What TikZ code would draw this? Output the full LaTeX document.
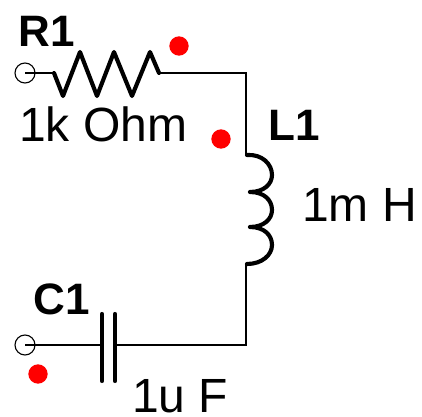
\documentclass[tikz,border=0pt]{standalone}
\usepackage{fontspec}
\setmainfont{Liberation Sans}
\tikzset{
  thinwire/.style={line width=1.125pt},
  thickwire/.style={line width=3.1pt,line cap=round,line join=round},
  terminal/.style={circle,draw,line width=0.85pt,minimum size=15pt,inner sep=0pt},
  reddot/.style={circle,fill=red,minimum size=14.5pt,inner sep=0pt},
  compname/.style={anchor=base west,inner sep=0pt,font=\bfseries\fontsize{33pt}{33pt}\selectfont},
  compvalue/.style={anchor=base west,inner sep=0pt,font=\fontsize{36pt}{36pt}\selectfont}
}
\begin{document}
\begin{tikzpicture}[x=0.75pt,y=-0.75pt]
\useasboundingbox[fill=white] (0,0) rectangle (422,417);
% terminals
\node[terminal] (t1) at (25,73) {};
\node[terminal] (t2) at (25,345) {};
\coordinate (t1c) at (25,73);
\coordinate (t2c) at (25,345);
% named points
\coordinate (ra) at (54,73);
\coordinate (rb) at (159,73);
\coordinate (c1) at (246,73);
\coordinate (la) at (246,155);
\coordinate (lb) at (246,263);
\coordinate (c2) at (246,345);
\coordinate (pa) at (102,345);
\coordinate (pb) at (116,345);
% wires
\draw[thinwire] (t1c) -- (ra);
\draw[thinwire] (rb) -- (c1) -- (la);
\draw[thinwire] (lb) -- (c2) -- (pb);
\draw[thinwire] (t2c) -- (pa);
% resistor
\draw[thickwire] (ra) -- (63,96) -- (80,52) -- (97,96) -- (114,52) -- (132,96) -- (150,52) -- (rb);
% inductor
\draw[thickwire] (247,155) .. controls (262,154) and (272,164) .. (272,175)
  .. controls (272,184) and (264,192) .. (250,192)
  (250,192) .. controls (264,192) and (272,200) .. (272,210)
  .. controls (272,219) and (264,227) .. (250,227)
  (250,227) .. controls (264,227) and (272,235) .. (272,245)
  .. controls (272,255) and (262,264) .. (247,264);
% capacitor
\draw[thickwire] (102,314) -- (pa) -- (102,381);
\draw[thickwire] (115,314) -- (115,381);
% red dots
\node[reddot] (d1) at (179,46) {};
\node[reddot] (d2) at (221,139) {};
\node[reddot] (d3) at (38,374) {};
% labels
\node[compname] (lr) at (18,47) {R1};
\node[compvalue] (vr) at (19,142) {1k Ohm};
\node[compname] (ll) at (268,141) {L1};
\node[compvalue] (vl) at (302,222) {1m H};
\node[compname] (lc) at (33,315) {C1};
\node[compvalue] (vc) at (132,412) {1u F};
\end{tikzpicture}
\end{document}
